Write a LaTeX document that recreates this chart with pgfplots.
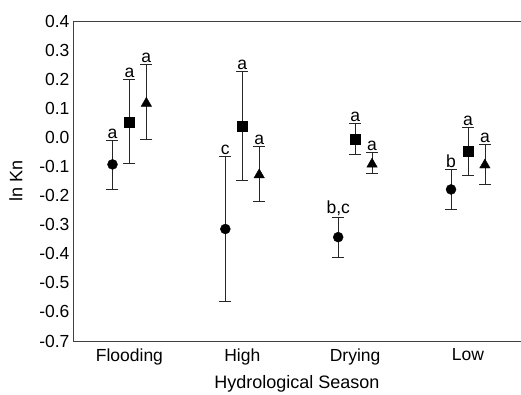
\documentclass[border=0pt]{standalone}
\usepackage{fontspec}
\setmainfont{Liberation Sans}
\usepackage{pgfplots}
\pgfplotsset{compat=1.18}
\usepackage{pgfplotstable}

\pgfplotstableread{
x     y      ep     em
-0.15 -0.093 0.081  0.086
0.85  -0.315 0.251  0.249
1.85  -0.343 0.069  0.069
2.85  -0.179 0.069  0.068
}\circdata
\pgfplotstableread{
x     y      ep     em
0.00  0.052  0.148  0.142
1.00  0.040  0.188  0.189
2.00  -0.007 0.054  0.050
3.00  -0.047 0.080  0.082
}\sqdata
\pgfplotstableread{
x     y      ep     em
0.15  0.117  0.134  0.123
1.15  -0.129 0.099  0.090
2.15  -0.092 0.041  0.032
3.15  -0.095 0.070  0.066
}\tridata

\begin{document}
\begin{tikzpicture}
\begin{axis}[
  width=448pt, height=320pt, scale only axis,
  xmin=-0.5, xmax=3.47, ymin=-0.7, ymax=0.4,
  axis x line*=box, axis y line*=left,
  axis line style={black!75, line width=0.9pt},
  major tick length=0pt,
  xtick={0,1,2,3},
  xticklabels={Flooding,High,Drying,Low},
  ytick={-0.7,-0.6,...,0.41},
  yticklabel style={/pgf/number format/.cd, fixed, fixed zerofill, precision=1, assume math mode=true},
  tick label style={font=\fontsize{17.5}{20}\selectfont},
  label style={font=\fontsize{18}{21}\selectfont},
  xlabel={Hydrological Season},
  ylabel={ln Kn},
  xticklabel style={yshift=-4pt},
  xlabel style={yshift=-4pt},
  ylabel style={yshift=10pt},
  clip=false,
]
\coordinate (bl) at (rel axis cs:0,0);
\coordinate (tr) at (rel axis cs:1,1);
\addplot[only marks, mark=*, mark size=5pt, black,
  error bars/.cd, y dir=both, y explicit,
  error bar style={black!85, line width=0.75pt},
  error mark options={rotate=90, mark size=6pt, black!85, line width=0.75pt}]
  table[x=x, y=y, y error plus=ep, y error minus=em]{\circdata};
\addplot[only marks, mark=square*, mark size=5pt, black,
  error bars/.cd, y dir=both, y explicit,
  error bar style={black!85, line width=0.75pt},
  error mark options={rotate=90, mark size=6pt, black!85, line width=0.75pt}]
  table[x=x, y=y, y error plus=ep, y error minus=em]{\sqdata};
\addplot[only marks, mark=triangle*, mark size=6pt, black,
  error bars/.cd, y dir=both, y explicit,
  error bar style={black!85, line width=0.75pt},
  error mark options={rotate=90, mark size=6pt, black!85, line width=0.75pt}]
  table[x=x, y=y, y error plus=ep, y error minus=em]{\tridata};
\tikzset{lett/.style={anchor=south, inner sep=1.5pt, font=\fontsize{17.5}{20}\selectfont}}
\node[lett] at (axis cs:-0.15,-0.012) {a};
\node[lett] at (axis cs:0.00,0.200) {a};
\node[lett] at (axis cs:0.15,0.251) {a};
\node[lett] at (axis cs:0.85,-0.064) {c};
\node[lett] at (axis cs:1.00,0.228) {a};
\node[lett] at (axis cs:1.15,-0.030) {a};
\node[lett] at (axis cs:1.85,-0.274) {b,c};
\node[lett] at (axis cs:2.00,0.047) {a};
\node[lett] at (axis cs:2.15,-0.051) {a};
\node[lett] at (axis cs:2.85,-0.110) {b};
\node[lett] at (axis cs:3.00,0.033) {a};
\node[lett] at (axis cs:3.15,-0.025) {a};
\end{axis}
\pgfresetboundingbox
\path ([shift={(-73pt,-53pt)}]bl) rectangle ([shift={(0pt,21pt)}]tr);
\end{tikzpicture}
\end{document}
